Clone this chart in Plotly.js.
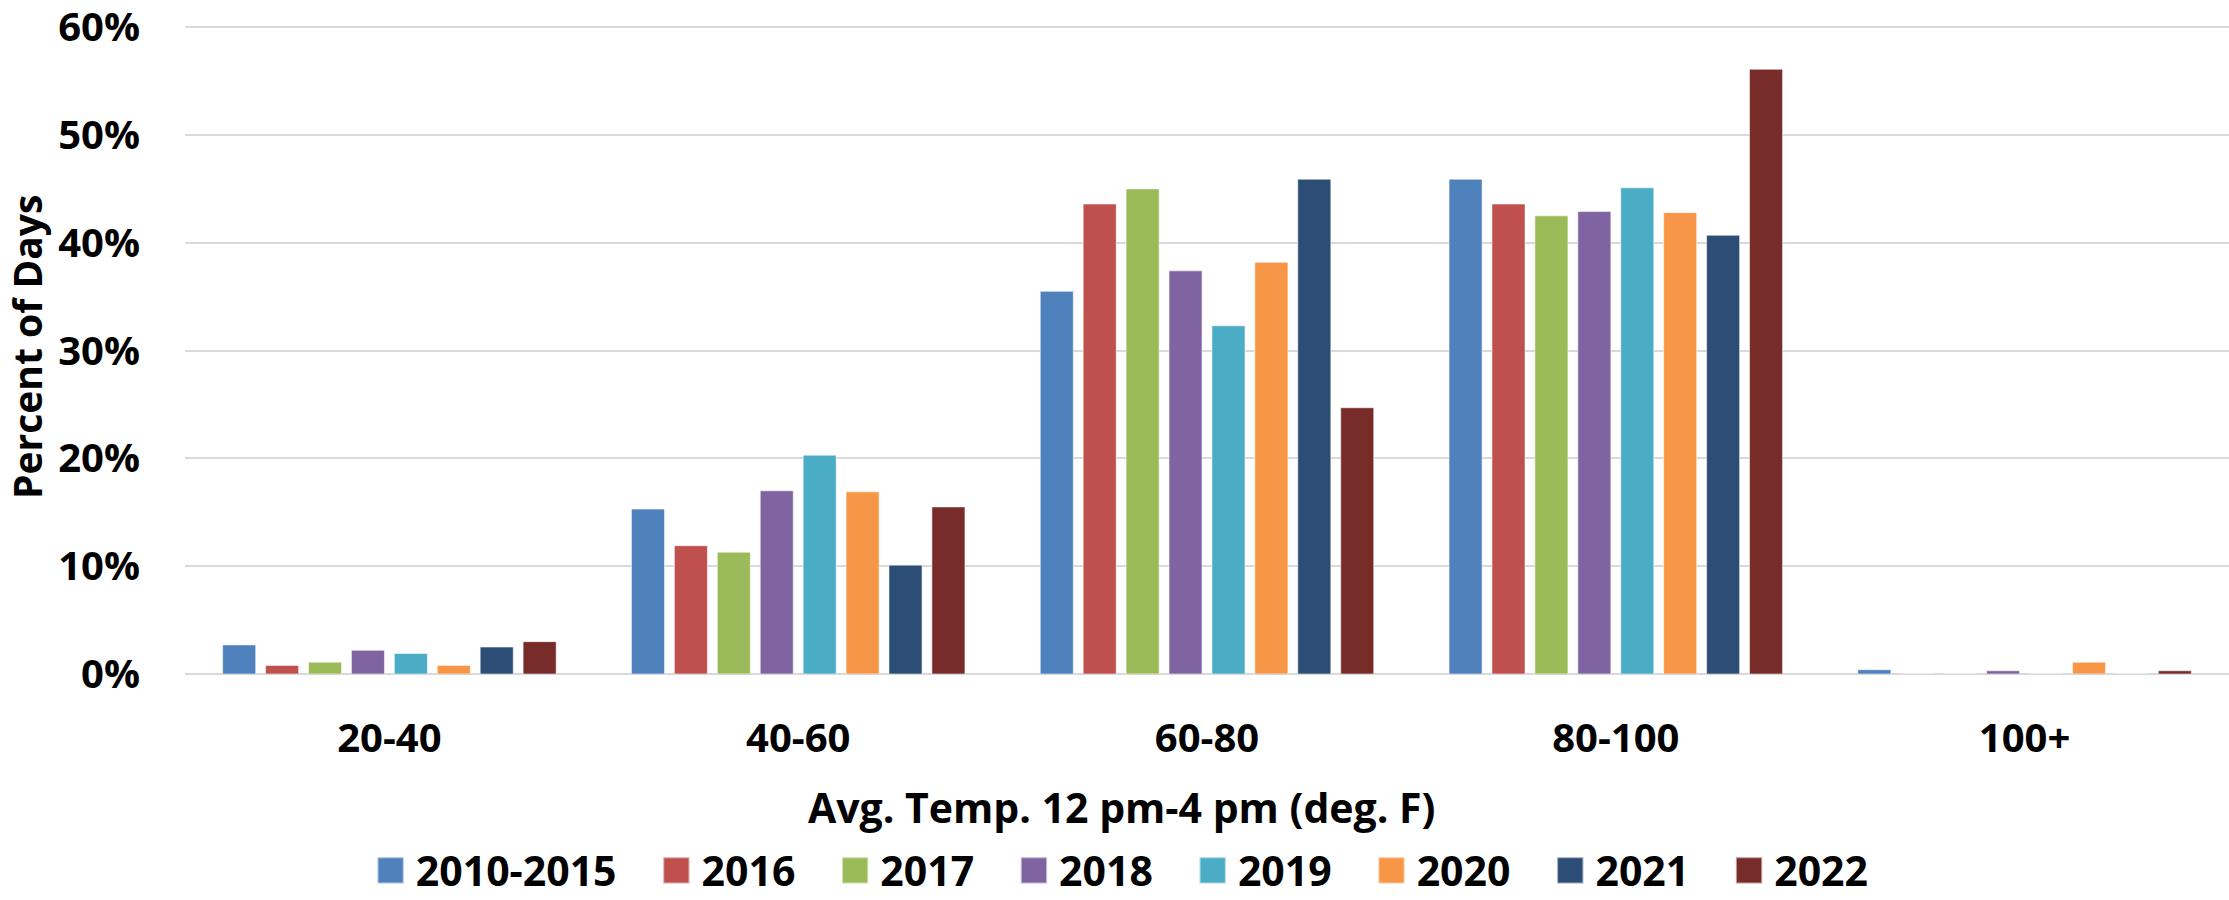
<!DOCTYPE html>
<html>
<head>
<meta charset="utf-8">
<script src="https://cdn.plot.ly/plotly-3.0.1.min.js"></script>
<style>
  html, body { margin: 0; padding: 0; background: #ffffff; }
  #chart { width: 2229px; height: 900px; }
</style>
</head>
<body>
<div id="chart"></div>
<script>
// Temperature bins (average temperature 12 pm-4 pm, deg. F)
const categories = ['20-40', '40-60', '60-80', '80-100', '100+'];

// Series names and colours
const seriesNames = ['2010-2015', '2016', '2017', '2018', '2019', '2020', '2021', '2022'];
const seriesColors = ['#4F81BD', '#C0504D', '#9BBB59', '#8064A2', '#4BACC6', '#F79646', '#2C4D75', '#772C2A'];

// Percent of days in each bin, one array per series
const v2010_2015 = [2.7, 15.3, 35.5, 45.9, 0.4];
const v2016      = [0.8, 11.9, 43.6, 43.6, 0.0];
const v2017      = [1.1, 11.3, 45.0, 42.5, 0.0];
const v2018      = [2.2, 17.0, 37.4, 42.9, 0.3];
const v2019      = [1.9, 20.3, 32.3, 45.1, 0.0];
const v2020      = [0.8, 16.9, 38.2, 42.8, 1.1];
const v2021      = [2.5, 10.1, 45.9, 40.7, 0.0];
const v2022      = [3.0, 15.5, 24.7, 56.1, 0.3];

const seriesValues = [v2010_2015, v2016, v2017, v2018, v2019, v2020, v2021, v2022];

// Y axis ticks
const yTickVals = [0, 10, 20, 30, 40, 50, 60];
const yTickText = ['0%', '10%', '20%', '30%', '40%', '50%', '60%'];

const FONT = '"Open Sans", "Noto Sans", sans-serif';

const traces = seriesNames.map((name, i) => ({
  type: 'bar',
  name: name,
  x: categories,
  y: seriesValues[i],
  marker: {
    color: seriesColors[i],
    line: { color: 'rgba(255,255,255,0.55)', width: 1 }
  },
  hoverinfo: 'x+y+name'
}));

const layout = {
  width: 2229,
  height: 900,
  paper_bgcolor: '#ffffff',
  plot_bgcolor: '#ffffff',
  margin: { l: 185, r: 0, t: 24, b: 226, autoexpand: false },
  barmode: 'group',
  bargap: 0.16,
  bargroupgap: 0.23,
  font: { family: FONT, color: '#000000' },
  xaxis: {
    type: 'category',
    showgrid: false,
    showline: false,
    ticks: '',
    ticklabelstandoff: 37,
    tickfont: { family: FONT, size: 40, color: '#000000', weight: 'bold' },
    automargin: false,
    fixedrange: true
  },
  yaxis: {
    range: [0, 60.3],
    tickvals: yTickVals,
    ticktext: yTickText,
    ticklabeloverflow: 'allow',
    showgrid: true,
    gridcolor: '#D9D9D9',
    gridwidth: 2,
    zeroline: true,
    zerolinecolor: '#D9D9D9',
    zerolinewidth: 2,
    showline: false,
    ticks: '',
    ticklabelstandoff: 44,
    tickfont: { family: FONT, size: 40, color: '#000000', weight: 'bold' },
    automargin: false,
    fixedrange: true
  },
  showlegend: true,
  legend: {
    orientation: 'h',
    x: 0.450,
    xanchor: 'center',
    y: -0.3026,
    yanchor: 'middle',
    itemwidth: 70,
    font: { family: FONT, size: 41, color: '#000000', weight: 'bold' },
    itemclick: false,
    itemdoubleclick: false
  },
  annotations: [
    {
      text: 'Avg. Temp. 12 pm-4 pm (deg. F)',
      xref: 'paper', yref: 'paper',
      x: 0.458, y: -0.2040,
      xanchor: 'center', yanchor: 'middle',
      showarrow: false,
      font: { family: FONT, size: 41, color: '#000000', weight: 'bold' }
    },
    {
      text: 'Percent of Days',
      xref: 'paper', yref: 'paper',
      x: -0.0778, y: 0.503,
      xanchor: 'center', yanchor: 'middle',
      textangle: -90,
      showarrow: false,
      font: { family: FONT, size: 39, color: '#000000', weight: 'bold' }
    }
  ]
};

Plotly.newPlot('chart', traces, layout, { displayModeBar: false, staticPlot: true }).then(gd => {
  // Larger square swatches, placed just before each legend label
  gd.querySelectorAll('.legend [clip-path]').forEach(el => el.removeAttribute('clip-path'));
  gd.querySelectorAll('.legend .traces').forEach(item => {
    const path = item.querySelector('.legendpoints path');
    const text = item.querySelector('.legendtext');
    if (!path || !text) return;
    const base = path.getAttribute('transform') || '';
    path.setAttribute('transform', base + ' scale(2.2)');
    const pr = path.getBoundingClientRect();
    const tr = text.getBoundingClientRect();
    const dx = (tr.left - 12) - pr.right;
    path.setAttribute('transform', 'translate(' + dx + ',0) ' + base + ' scale(2.2)');
  });
});
</script>
</body>
</html>
